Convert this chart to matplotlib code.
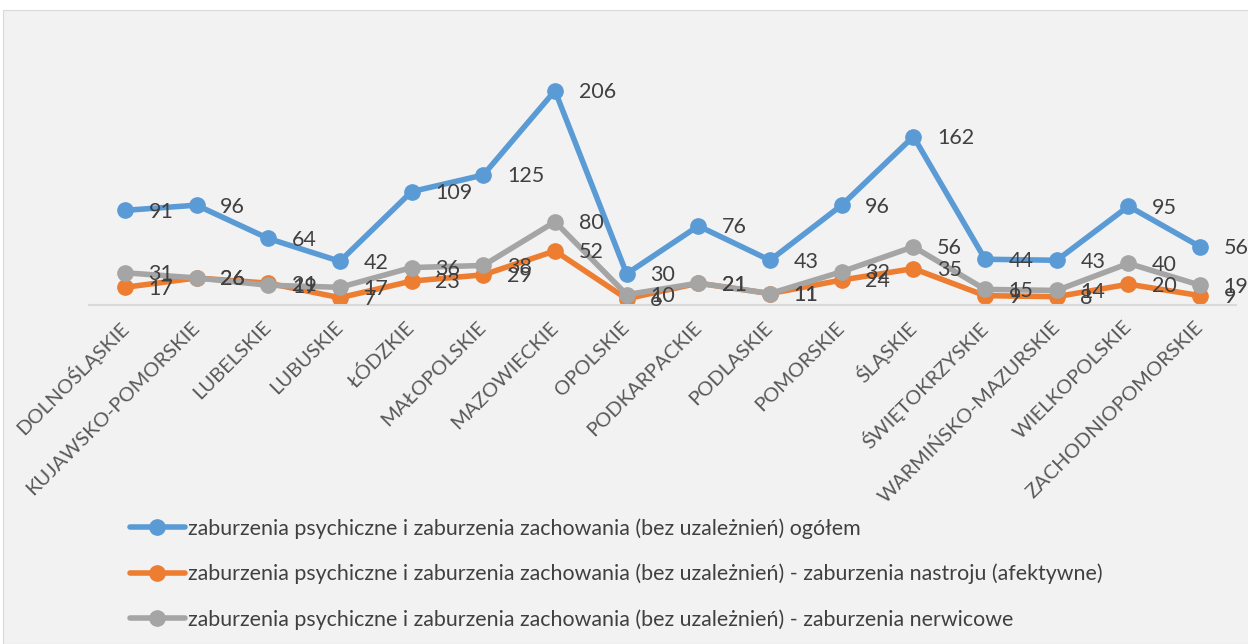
import matplotlib.pyplot as plt
from matplotlib.patches import Rectangle

plt.rcParams['font.family'] = ['Lato', 'DejaVu Sans']

regions = ['DOLNOŚLĄSKIE', 'KUJAWSKO-POMORSKIE', 'LUBELSKIE', 'LUBUSKIE', 'ŁÓDZKIE',
           'MAŁOPOLSKIE', 'MAZOWIECKIE', 'OPOLSKIE', 'PODKARPACKIE', 'PODLASKIE',
           'POMORSKIE', 'ŚLĄSKIE', 'ŚWIĘTOKRZYSKIE', 'WARMIŃSKO-MAZURSKIE',
           'WIELKOPOLSKIE', 'ZACHODNIOPOMORSKIE']
total = [91, 96, 64, 42, 109, 125, 206, 30, 76, 43, 96, 162, 44, 43, 95, 56]
mood = [17, 26, 21, 7, 23, 29, 52, 6, 21, 11, 24, 35, 9, 8, 20, 9]
neurotic = [31, 26, 19, 17, 36, 38, 80, 10, 21, 11, 32, 56, 15, 14, 40, 19]

names = ['zaburzenia psychiczne i zaburzenia zachowania (bez uzależnień) ogółem',
         'zaburzenia psychiczne i zaburzenia zachowania (bez uzależnień) - zaburzenia nastroju (afektywne)',
         'zaburzenia psychiczne i zaburzenia zachowania (bez uzależnień) - zaburzenia nerwicowe']
colors = ['#5B9BD5', '#ED7D31', '#A5A5A5']

fig = plt.figure(figsize=(12.48, 6.44), dpi=100)
fig.patch.set_facecolor('white')
fig.patches.append(Rectangle((3 / 1248, 0), 1, 1 - 10 / 644, transform=fig.transFigure,
                             facecolor='#F2F2F2', edgecolor='#D9D9D9', lw=0.8, zorder=-1))

ax = fig.add_axes([89 / 1248, 1 - 305 / 644, (1236 - 89) / 1248, 260 / 644])
ax.set_facecolor('none')
x = list(range(len(regions)))

handles = []
for vals, c, name in zip([total, mood, neurotic], colors, names):
    h, = ax.plot(x, vals, color=c, lw=4, marker='o', ms=11, label=name, solid_capstyle='round')
    handles.append(h)
    for xi, v in zip(x, vals):
        ax.annotate(str(v), (xi, v), xytext=(17, -1), textcoords='offset points',
                    fontsize=15.5, color='#404040', va='center', ha='left')

ax.set_xlim(-0.5, len(regions) - 0.5)
ax.set_ylim(0, 250)
ax.set_yticks([])
for s in ['left', 'right', 'top']:
    ax.spines[s].set_visible(False)
ax.spines['bottom'].set_color('#D9D9D9')
ax.spines['bottom'].set_linewidth(1.5)
ax.set_xticks(x)
ax.set_xticklabels(regions, rotation=45, ha='right', va='center', rotation_mode='anchor',
                   fontsize=14.5, color='#595959')
ax.tick_params(axis='x', length=0, pad=14)

fig.legend(handles=handles, loc='upper left', bbox_to_anchor=(130 / 1248, 1 - 518 / 644),
           frameon=False, fontsize=15.4, labelcolor='#404040', handlelength=2.55,
           handletextpad=0.15, labelspacing=1.17, borderaxespad=0, borderpad=0)

fig.savefig('out.png', dpi=100, facecolor=fig.get_facecolor())
